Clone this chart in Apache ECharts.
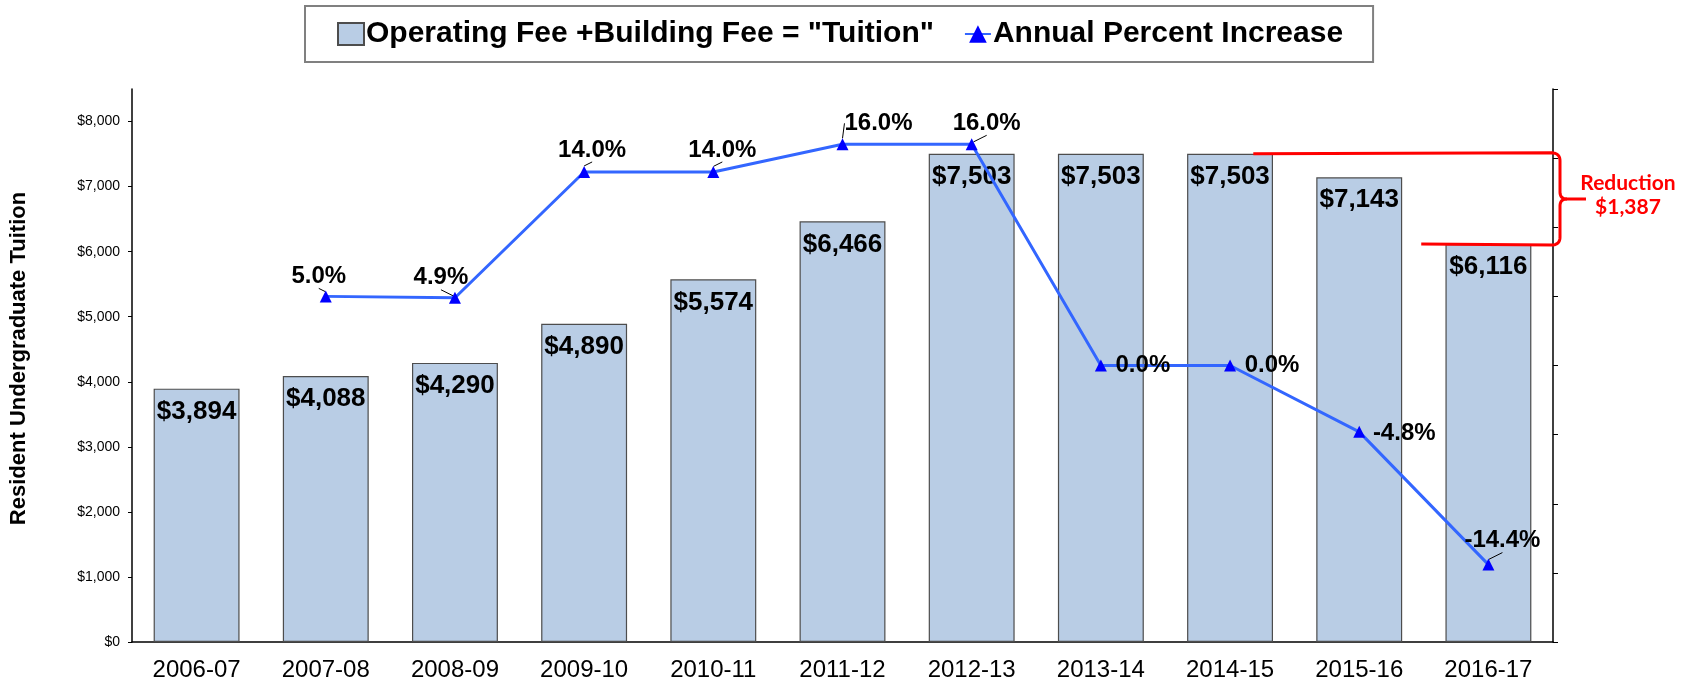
<!DOCTYPE html>
<html>
<head>
<meta charset="utf-8">
<script src="https://cdn.jsdelivr.net/npm/echarts@6/dist/echarts.min.js"></script>
<style>
    html, body { margin: 0; padding: 0; background: #fff; }
    #main { width: 1688px; height: 684px; }
</style>
</head>
<body>
<div id="main"></div>
<script>
    // academic years
    const years = ['2006-07', '2007-08', '2008-09', '2009-10', '2010-11', '2011-12',
        '2012-13', '2013-14', '2014-15', '2015-16', '2016-17'];
    // operating fee + building fee
    const tuition = [3894, 4088, 4290, 4890, 5574, 6466, 7503, 7503, 7503, 7143, 6116];
    // annual percent increase (no value for the first year)
    const pctIncrease = [null, 5.0, 4.9, 14.0, 14.0, 16.0, 16.0, 0.0, 0.0, -4.8, -14.4];
    // where each percent label sits relative to its marker, and whether it has a leader line
    const pctLabelOffset = [null, [-7, -20], [-14, -20], [8, -22], [9, -22], [36, -21],
        [15, -21], [42, 0], [42, 0], [45, 2], [14, -24]];
    const pctLeader = [false, true, true, true, true, true, true, false, false, false, true];

    const barName = 'Operating Fee +Building Fee = "Tuition"';
    const lineName = 'Annual Percent Increase';
    const font = 'Liberation Sans, Arial, sans-serif';

    const chart = echarts.init(document.getElementById('main'));

    // line data items carry their own label offset
    let lineData = [];
    for (let i = 0; i < pctIncrease.length; i++) {
        if (pctIncrease[i] === null) {
            lineData.push('-');
            continue;
        }
        lineData.push({
            value: pctIncrease[i],
            label: {offset: pctLabelOffset[i]},
            labelLine: {show: pctLeader[i]}
        });
    }

    chart.setOption({
        animation: false,
        textStyle: {fontFamily: font},
        legend: {
            left: 305,
            top: 6,
            padding: [13, 30, 13, 32],
            itemGap: 30,
            itemWidth: 26,
            itemHeight: 22,
            borderColor: '#808080',
            borderWidth: 2,
            textStyle: {fontSize: 30, fontWeight: 'bold', color: '#000', fontFamily: font, padding: [0, 0, 0, -3]},
            data: [{name: barName, icon: 'rect'}, {name: lineName}]
        },
        grid: {left: 125, right: 135, top: 89, bottom: 42},
        xAxis: {
            type: 'category',
            data: years,
            axisLine: {lineStyle: {color: '#000', width: 1.5}},
            axisTick: {length: 6, lineStyle: {color: '#000'}},
            axisLabel: {fontSize: 24, color: '#000', margin: 16}
        },
        yAxis: [{
            type: 'value',
            min: 0,
            max: 8500,
            interval: 1000,
            name: 'Resident Undergraduate Tuition',
            nameLocation: 'middle',
            nameGap: 102,
            nameTextStyle: {fontSize: 22, fontWeight: 'bold', color: '#000', padding: [0, 0, 0, 14]},
            splitLine: {show: false},
            axisLine: {show: true, lineStyle: {color: '#000', width: 1.5}},
            axisTick: {show: true, length: 4, lineStyle: {color: '#000'}},
            axisLabel: {
                fontSize: 14,
                color: '#000',
                margin: 12,
                showMaxLabel: false,
                formatter: v => '$' + v.toLocaleString('en-US')
            }
        }, {
            type: 'value',
            min: -20,
            max: 20,
            interval: 5,
            position: 'right',
            splitLine: {show: false},
            axisLine: {show: true, lineStyle: {color: '#000', width: 1.5}},
            axisTick: {show: true, length: 5, lineStyle: {color: '#000'}},
            axisLabel: {show: false}
        }],
        series: [{
            name: barName,
            type: 'bar',
            data: tuition,
            barWidth: '66.5%',
            itemStyle: {color: '#B9CDE5', borderColor: '#4d4d4d', borderWidth: 1.2},
            label: {
                show: true,
                position: 'insideTop',
                distance: 10,
                fontSize: 26,
                fontWeight: 'bold',
                color: '#000',
                formatter: p => '$' + p.value.toLocaleString('en-US')
            }
        }, {
            name: lineName,
            type: 'line',
            yAxisIndex: 1,
            data: lineData,
            symbol: 'triangle',
            symbolSize: 12,
            itemStyle: {color: '#0000FF'},
            lineStyle: {color: '#3366FF', width: 3},
            label: {
                show: true,
                position: 'inside',
                fontSize: 24,
                fontWeight: 'bold',
                color: '#000',
                formatter: p => p.value.toFixed(1) + '%'
            },
            labelLine: {lineStyle: {color: '#000', width: 1}}
        }]
    });

    // red bracket showing the drop from $7,503 to $6,116
    const yHigh = chart.convertToPixel({yAxisIndex: 0}, tuition[8]);
    const yLow = chart.convertToPixel({yAxisIndex: 0}, tuition[10]);
    const c8 = chart.convertToPixel({xAxisIndex: 0}, years[8]);
    const c9 = chart.convertToPixel({xAxisIndex: 0}, years[9]);
    const c10 = chart.convertToPixel({xAxisIndex: 0}, years[10]);
    const catW = c9 - c8;
    const xTopStart = c8 + 0.18 * catW;
    const xBotStart = c10 - 0.52 * catW;
    const xb = 1560;
    const yMid = (yHigh + yLow) / 2;
    const r = 7;

    // points along a quadratic curve, used for the rounded corners of the brace
    function curve(p0, p1, p2) {
        let pts = [];
        for (let t = 0.1; t <= 1.001; t += 0.1) {
            const a = (1 - t) * (1 - t), b = 2 * (1 - t) * t, c = t * t;
            pts.push([a * p0[0] + b * p1[0] + c * p2[0], a * p0[1] + b * p1[1] + c * p2[1]]);
        }
        return pts;
    }

    let upper = [[xTopStart, yHigh], [xb - r, yHigh - 1]];
    upper = upper.concat(curve([xb - r, yHigh - 1], [xb, yHigh], [xb, yHigh + r]));
    upper.push([xb, yMid - r]);
    upper = upper.concat(curve([xb, yMid - r], [xb, yMid], [xb + r, yMid]));
    upper.push([xb + 26, yMid]);

    let lower = [[xb + r, yMid]];
    lower = lower.concat(curve([xb + r, yMid], [xb, yMid], [xb, yMid + r]));
    lower.push([xb, yLow - r]);
    lower = lower.concat(curve([xb, yLow - r], [xb, yLow], [xb - r, yLow + 1]));
    lower.push([xBotStart, yLow]);

    const braceStyle = {fill: null, stroke: '#FF0000', lineWidth: 3, lineJoin: 'round'};

    chart.setOption({
        graphic: [{
            type: 'polyline',
            shape: {points: upper},
            style: braceStyle,
            z: 100
        }, {
            type: 'polyline',
            shape: {points: lower},
            style: braceStyle,
            z: 100
        }, {
            type: 'text',
            x: 1628,
            y: yMid - 4,
            style: {
                text: 'Reduction\n$1,387',
                fill: '#FF0000',
                font: 'bold 21px Lato, "Open Sans", sans-serif',
                align: 'center',
                verticalAlign: 'middle',
                lineHeight: 24
            },
            z: 100
        }]
    });
</script>
</body>
</html>
